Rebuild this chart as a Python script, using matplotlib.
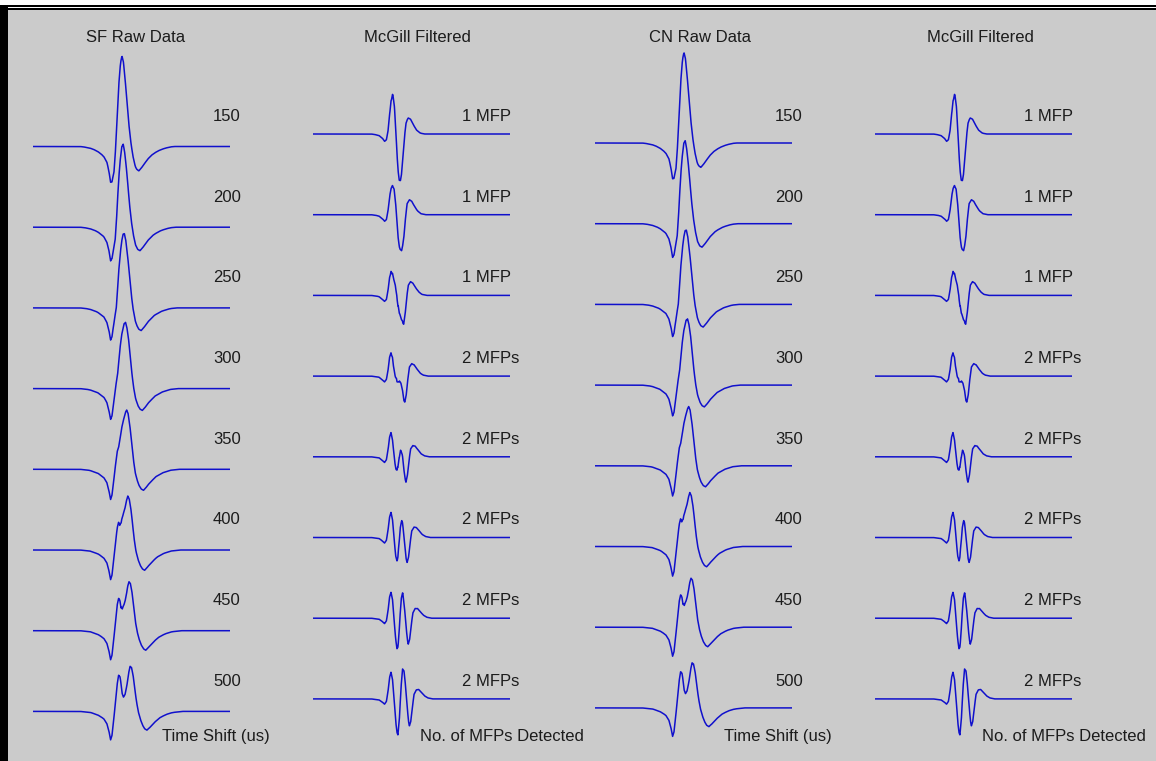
import numpy as np
import matplotlib
matplotlib.use('Agg')
import matplotlib.pyplot as plt
from matplotlib.patches import Rectangle

plt.rcParams['font.family'] = ['Liberation Sans', 'DejaVu Sans']

# one row per time shift between the two MFPs
time_shift_us = [150, 200, 250, 300, 350, 400, 450, 500]
mfps_detected = ['1 MFP', '1 MFP', '1 MFP', '2 MFPs',
                 '2 MFPs', '2 MFPs', '2 MFPs', '2 MFPs']

# single MFP shape (ms from the peak, amplitude)
raw_t = [-2.2, -1.75, -1.3, -0.96, -0.70, -0.57, -0.48, -0.41, -0.35, -0.28,
         -0.20, -0.12, -0.06, 0.0, 0.07, 0.14, 0.22, 0.30, 0.39, 0.48,
         0.57, 0.67, 0.78, 0.96, 1.22, 1.52, 1.83, 2.2]
raw_a = [0, 0, -1, -3, -6, -10, -17, -25, -20, -5,
         15, 36, 47, 50, 46, 36, 22, 11, 2, -5,
         -10, -13, -12, -9, -5, -2.5, -1, 0]

# same MFP after the McGill filter
filt_t = [-1.3, -0.87, -0.52, -0.39, -0.28, -0.20, -0.13, -0.065, 0.0, 0.065,
          0.13, 0.20, 0.26, 0.30, 0.36, 0.43, 0.50, 0.60, 0.70, 0.80,
          0.96, 1.1, 1.3]
filt_a = [0, 0, -1, -3, -5, -2, 8, 22, 28, 22,
          5, -16, -30, -34, -28, -12, 2, 8, 9, 7,
          3, 1, 0]

W, H = 1156, 761
MS_PER_PX = 0.0435
ROW_GAP = 80.7
BG = '#cbcbcb'
BLUE = '#1010cc'
TXT = '#1c1c1c'
FS = 12

fig = plt.figure(figsize=(W / 100, H / 100), dpi=100)
fig.patch.set_facecolor('white')


def px_rect(x, y, w, h, color):
    fig.add_artist(Rectangle((x / W, 1 - (y + h) / H), w / W, h / H,
                             transform=fig.transFigure, facecolor=color,
                             edgecolor='none', zorder=0))


# window frame
px_rect(8, 10, W - 8, H - 10, BG)
px_rect(0, 5, W, 2, 'black')
px_rect(0, 8, W, 2, 'black')
px_rect(0, 5, 8, H - 5, 'black')

# (title, title x, trace start x, first baseline y, shape, pulse pos, row labels, label x, footer, footer x)
columns = [
    ('SF Raw Data', 136, 33, 146.5, (raw_t, raw_a), 87,
     [str(s) for s in time_shift_us], 213, 'Time Shift (us)', 162),
    ('McGill Filtered', 417, 313, 134, (filt_t, filt_a), 78,
     mfps_detected, 462.5, 'No. of MFPs Detected', 420),
    ('CN Raw Data', 700, 595, 143, (raw_t, raw_a), 87,
     [str(s) for s in time_shift_us], 775, 'Time Shift (us)', 724),
    ('McGill Filtered', 980, 875, 134, (filt_t, filt_a), 78,
     mfps_detected, 1024, 'No. of MFPs Detected', 982),
]

TRACE_W = 197
span = TRACE_W * MS_PER_PX
t = np.arange(0, span + 1e-9, 0.004)

for title, tx, x0, b0, (st, sa), p_px, labels, lx, foot, fx in columns:
    ax = fig.add_axes([x0 / W, 0, TRACE_W / W, 1])
    ax.set_xlim(0, span)
    ax.set_ylim(-(H - b0), b0)
    ax.axis('off')
    p1 = p_px * MS_PER_PX
    for i, shift in enumerate(time_shift_us):
        y = (np.interp(t - p1, st, sa, left=0, right=0)
             + np.interp(t - p1 - shift / 1000, st, sa, left=0, right=0))
        ax.plot(t, y - i * ROW_GAP, color=BLUE, lw=1.1, solid_joinstyle='round')

# text layer in pixel coordinates
tax = fig.add_axes([0, 0, 1, 1], zorder=5)
tax.set_xlim(0, W)
tax.set_ylim(H, 0)
tax.axis('off')

for title, tx, x0, b0, shape, p_px, labels, lx, foot, fx in columns:
    tax.text(tx, 41.5, title, ha='center', va='baseline', fontsize=FS, color=TXT)
    for i, lab in enumerate(labels):
        tax.text(lx, 121 + i * ROW_GAP, lab, ha='left', va='baseline',
                 fontsize=FS, color=TXT)
    tax.text(fx, 741, foot, ha='left', va='baseline', fontsize=FS, color=TXT)

fig.savefig('out.png', dpi=100, facecolor=fig.get_facecolor())
